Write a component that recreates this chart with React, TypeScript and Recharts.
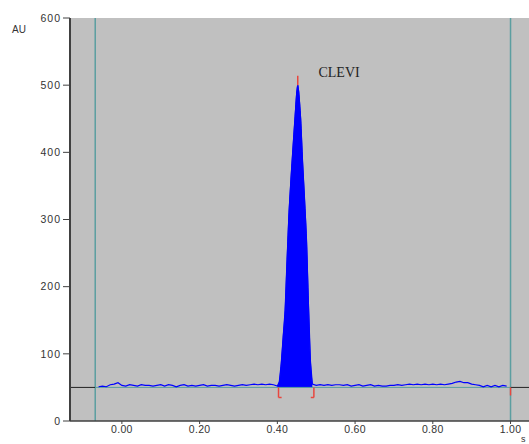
import {
  ComposedChart,
  Line,
  Area,
  XAxis,
  YAxis,
  ReferenceLine,
  ReferenceDot,
  Label,
} from 'recharts'

// retention time (min) and detector response (AU)
const times = [
  -0.06, -0.05, -0.04, -0.03, -0.02, -0.01, 0.0, 0.01, 0.02, 0.03, 0.04, 0.05, 0.06, 0.07, 0.08,
  0.09, 0.1, 0.11, 0.12, 0.13, 0.14, 0.15, 0.16, 0.17, 0.18, 0.19, 0.2, 0.21, 0.22, 0.23, 0.24,
  0.25, 0.26, 0.27, 0.28, 0.29, 0.3, 0.31, 0.32, 0.33, 0.34, 0.35, 0.36, 0.37, 0.38, 0.39,
  0.4, 0.405, 0.41, 0.415, 0.42, 0.425, 0.43, 0.435, 0.44, 0.445, 0.45, 0.4525, 0.455, 0.46,
  0.465, 0.47, 0.475, 0.48, 0.485, 0.49,
  0.5, 0.51, 0.52, 0.53, 0.54, 0.55, 0.56, 0.57, 0.58, 0.59, 0.6, 0.61, 0.62, 0.63, 0.64, 0.65,
  0.66, 0.67, 0.68, 0.69, 0.7, 0.71, 0.72, 0.73, 0.74, 0.75, 0.76, 0.77, 0.78, 0.79, 0.8, 0.81,
  0.82, 0.83, 0.84, 0.85, 0.86, 0.87, 0.88, 0.89, 0.9, 0.91, 0.92, 0.93, 0.94, 0.95, 0.96, 0.97,
  0.98, 0.99,
]
const response = [
  51, 52, 51, 54, 55, 57, 53, 52, 54, 53, 52, 54, 53, 53, 52,
  53, 54, 52, 54, 53, 51, 53, 54, 52, 53, 52, 53, 54, 52, 53, 53,
  52, 53, 54, 53, 52, 53, 54, 53, 54, 55, 54, 55, 54, 55, 54,
  52, 58, 85, 125, 165, 240, 310, 360, 405, 448, 490, 500, 490, 450,
  385, 330, 270, 175, 90, 55,
  53, 54, 53, 54, 53, 54, 54, 53, 54, 52, 53, 54, 52, 53, 54, 52,
  53, 52, 52, 53, 53, 54, 53, 54, 55, 54, 55, 54, 55, 54, 55, 54,
  55, 54, 55, 56, 58, 59, 57, 57, 55, 54, 53, 51, 53, 51, 53, 51,
  53, 52,
]
const xTicks = [0, 0.2, 0.4, 0.6, 0.8, 1.0]
const yTicks = [0, 100, 200, 300, 400, 500, 600]

const peakName = 'CLEVI'
const peakStart = 0.4
const peakEnd = 0.49
const peakApex = 0.4525
const integStart = 0.403
const integEnd = 0.494
const baseline = 50
const windowStart = -0.0686
const windowEnd = 1.0

const data = times.map((t, i) => ({
  t,
  au: response[i],
  peak: t >= peakStart && t <= peakEnd ? response[i] : null,
}))

const RED = '#e8473f'
const TEAL = '#5b9ea0'
const AXIS = '#404040'

export default function App() {
  return (
    <div style={{ position: 'absolute', left: 0, top: 0, background: '#fff' }}>
      <ComposedChart
        width={529}
        height={444}
        data={data}
        margin={{ top: 18, right: 0, bottom: 0, left: 0 }}
      >
        <rect x={70} y={18} width={459} height={403} fill="#c0c0c0" />
        <XAxis
          dataKey="t"
          type="number"
          domain={[-0.1335, 1.0475]}
          allowDataOverflow
          ticks={xTicks}
          tickFormatter={(v: number) => v.toFixed(2)}
          tick={{ fontSize: 10.5, fill: '#333', fontFamily: 'Liberation Sans, Arial', letterSpacing: 0.3 }}
          tickSize={3}
          tickMargin={2}
          height={23}
          axisLine={{ stroke: AXIS, strokeWidth: 1.5 }}
          tickLine={{ stroke: AXIS }}
        >
          <Label
            content={(props: any) => (
              <text
                x={props.viewBox.x + props.viewBox.width - 8}
                y={props.viewBox.y + 21}
                fontSize={9}
                fill="#333"
                fontFamily="Liberation Sans, Arial"
              >
                s
              </text>
            )}
          />
        </XAxis>
        <YAxis
          type="number"
          domain={[0, 600]}
          ticks={yTicks}
          width={70}
          tick={{ fontSize: 10.5, fill: '#333', fontFamily: 'Liberation Sans, Arial', letterSpacing: 1 }}
          tickSize={7}
          tickMargin={2}
          axisLine={{ stroke: AXIS, strokeWidth: 2 }}
          tickLine={{ stroke: AXIS }}
        >
          <Label
            content={(props: any) => (
              <text
                x={props.viewBox.x + 12}
                y={props.viewBox.y + 15}
                fontSize={10}
                fill="#333"
                fontFamily="Liberation Sans, Arial"
              >
                AU
              </text>
            )}
          />
        </YAxis>

        <ReferenceLine x={windowStart} stroke={TEAL} strokeWidth={1.5} />
        <ReferenceLine x={windowEnd} stroke={TEAL} strokeWidth={1.5} />
        <ReferenceLine
          segment={[{ x: -0.1335, y: baseline }, { x: windowStart, y: baseline }]}
          stroke="#222"
        />
        <ReferenceLine
          segment={[{ x: windowStart, y: baseline }, { x: windowEnd, y: baseline }]}
          stroke={TEAL}
        />
        <ReferenceLine
          segment={[{ x: windowEnd, y: baseline }, { x: 1.0475, y: baseline }]}
          stroke="#222"
        />

        <Area
          dataKey="peak"
          type="monotone"
          baseValue={baseline}
          fill="#0000ff"
          fillOpacity={1}
          stroke="#0000ff"
          strokeWidth={1}
          isAnimationActive={false}
        />
        <Line
          dataKey="au"
          type="linear"
          stroke="#0000ff"
          strokeWidth={1.2}
          dot={false}
          isAnimationActive={false}
        />

        <ReferenceLine segment={[{ x: peakApex, y: 500 }, { x: peakApex, y: 514 }]} stroke={RED} strokeWidth={1.5} />
        <ReferenceLine segment={[{ x: integStart, y: baseline }, { x: integStart, y: 35 }]} stroke={RED} strokeWidth={1.5} />
        <ReferenceLine segment={[{ x: integStart, y: 35 }, { x: integStart + 0.008, y: 35 }]} stroke={RED} strokeWidth={1.5} />
        <ReferenceLine segment={[{ x: integEnd, y: baseline }, { x: integEnd, y: 35 }]} stroke={RED} strokeWidth={1.5} />
        <ReferenceLine segment={[{ x: integEnd, y: 35 }, { x: integEnd - 0.008, y: 35 }]} stroke={RED} strokeWidth={1.5} />
        <ReferenceLine segment={[{ x: windowEnd, y: baseline }, { x: windowEnd, y: 38 }]} stroke={RED} strokeWidth={1.5} />

        <ReferenceDot
          x={0.5058}
          y={520}
          r={0}
          fill="none"
          stroke="none"
          label={(props: any) => (
            <text
              x={props.viewBox.x}
              y={props.viewBox.y + 5}
              fontSize={14}
              fill="#222"
              fontFamily="Liberation Serif, Times New Roman, serif"
            >
              {peakName}
            </text>
          )}
        />
      </ComposedChart>
    </div>
  )
}
